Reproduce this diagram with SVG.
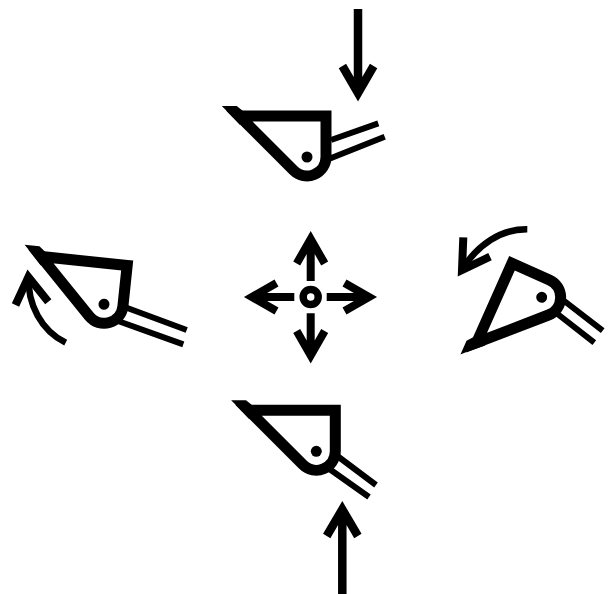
<svg xmlns="http://www.w3.org/2000/svg" xmlns:xlink="http://www.w3.org/1999/xlink" width="609" height="594" viewBox="0 0 609 594">
<style>
.frame{fill:#fff;fill-opacity:0;stroke:#000;stroke-width:11;stroke-miterlimit:10}
.tail{fill:none;stroke:#000;stroke-width:6}
.a8{fill:none;stroke:#000;stroke-width:8.5;stroke-miterlimit:10}
.a7{fill:none;stroke:#000;stroke-width:8;stroke-miterlimit:10}
.curve{fill:none;stroke:#000;stroke-width:6.5}
.ring{fill:none;stroke:#000;stroke-width:7.5}
</style>
<defs>
<g id="body">
<path class="frame" d="M19,-41H-67.8L-13.4,13.4A19,19 0 0 0 19,0Z"/>
<polygon points="-85.2,-51 -70.3,-51 -64,-46 -67,-32 -80.2,-46" fill="#000"/>
<circle cx="0" cy="0" r="5.5" fill="#000"/>
</g>
</defs>
<g id="connectors">
<path class="a8" d="M358,9V93M342.4,66L358,93L373.6,66"/>
<path class="a8" d="M342.3,594V509.4M326.7,536L342.3,509.4L357.9,536"/>
<path class="curve" d="M65.7,342.7C42,331 27,305 28.7,275"/>
<path class="a7" d="M15.5,305L28.4,277L48.3,301.7"/>
<path class="curve" d="M527.3,229.3C500,229 478,245 463,268"/>
<path class="a7" d="M463.3,237.3L462,270L490,256.7"/>
</g>
<g id="node-top">
<path class="tail" d="M331,140L378.3,123.3M330,158.5L384.7,136.7"/>
<use xlink:href="#body" href="#body" transform="translate(307,157)"/>
</g>
<g id="node-left">
<path class="tail" d="M126,307.5L186.7,330M118,321L183.3,344.3"/>
<use xlink:href="#body" href="#body" transform="translate(104,304.3) rotate(6)"/>
</g>
<g id="node-right">
<path class="tail" d="M563,300L602.7,330.7M555,312L594.3,342.7"/>
<use xlink:href="#body" href="#body" transform="translate(541.7,297.3) rotate(-66)"/>
</g>
<g id="node-bottom">
<path class="tail" d="M338,456.5L376,485M328,468L369,497"/>
<use xlink:href="#body" href="#body" transform="translate(316.3,451.3)"/>
</g>
<g id="node-center">
<circle class="ring" cx="310.7" cy="297" r="7.5"/>
<path class="a7" d="M310.7,281V239M296.7,263.5L310.7,239L324.7,263.5"/>
<path class="a7" d="M310.7,313.3V355.5M296.7,331L310.7,355.5L324.7,331"/>
<path class="a7" d="M294.3,297H252M276.5,283L252,297L276.5,311"/>
<path class="a7" d="M326.7,297H369M344.5,283L369,297L344.5,311"/>
</g>
</svg>
